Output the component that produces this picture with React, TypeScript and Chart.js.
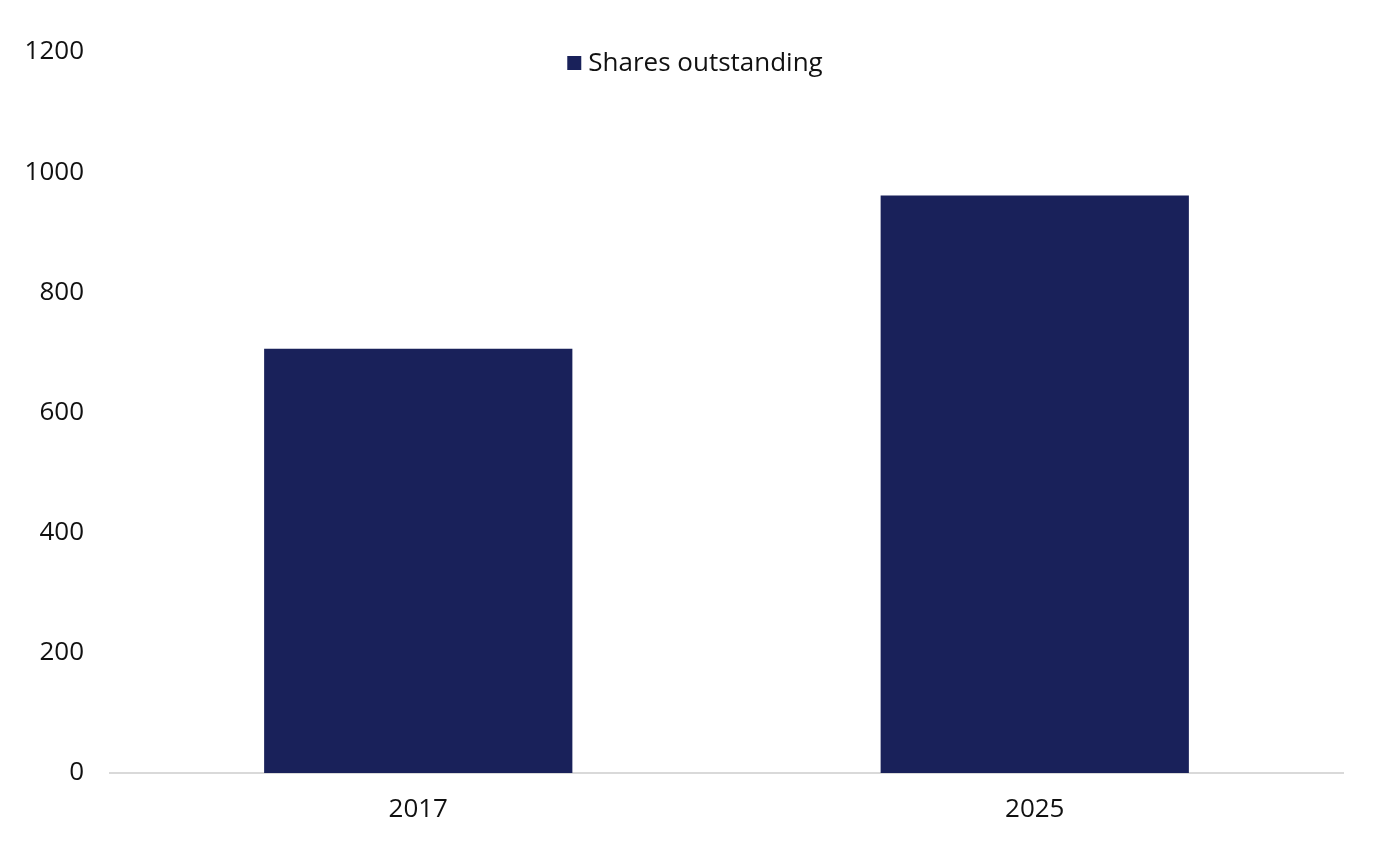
import React, { useRef, useEffect } from 'react';
import { Chart, registerables, Plugin } from 'chart.js';

Chart.register(...registerables);

const years = ['2017', '2025'];
const sharesOutstanding = [706, 961];
const seriesLabel = 'Shares outstanding';
const barColor = '#19215a';
const fontFamily = '"Open Sans", "Noto Sans", sans-serif';

// legend drawn inside the plot area, centred near the top
const topLegend: Plugin<'bar'> = {
    id: 'topLegend',
    afterDraw(chart) {
        const ctx = chart.ctx;
        const ds = chart.data.datasets[0];
        ctx.save();
        ctx.font = `26px ${fontFamily}`;
        const text = String(ds.label);
        const textW = ctx.measureText(text).width;
        const box = 14;
        const gap = 7;
        const total = box + gap + textW;
        const cx = 695;
        const cy = 63;
        const x0 = cx - total / 2;
        ctx.fillStyle = barColor;
        ctx.fillRect(x0, cy - box / 2, box, box);
        ctx.fillStyle = '#111';
        ctx.textBaseline = 'middle';
        ctx.textAlign = 'left';
        ctx.fillText(text, x0 + box + gap, cy + 1);
        ctx.restore();
    }
};

const SharesChart = () => {
    const chartRef = useRef<HTMLCanvasElement>(null);
    const chartInstance = useRef<Chart | null>(null);

    useEffect(() => {
        if (!chartRef.current) return;
        const ctx = chartRef.current.getContext('2d');
        if (!ctx) return;

        if (chartInstance.current) {
            chartInstance.current.destroy();
        }

        chartInstance.current = new Chart(ctx, {
            type: 'bar',
            data: {
                labels: years,
                datasets: [{
                    label: seriesLabel,
                    data: sharesOutstanding,
                    backgroundColor: barColor,
                    borderWidth: 0,
                    barPercentage: 0.5,
                    categoryPercentage: 1
                }]
            },
            options: {
                responsive: true,
                maintainAspectRatio: false,
                animation: false,
                layout: {
                    padding: { top: 52, right: 37, left: 0, bottom: 0 }
                },
                scales: {
                    x: {
                        grid: { display: false, drawTicks: false },
                        border: { color: '#d9d9d9', width: 2 },
                        ticks: {
                            color: '#111',
                            padding: 21,
                            font: { family: fontFamily, size: 26 }
                        },
                        afterFit: (scale) => { scale.height = 90; }
                    },
                    y: {
                        min: 0,
                        max: 1200,
                        grid: { display: false, drawTicks: false },
                        border: { display: false },
                        ticks: {
                            stepSize: 200,
                            color: '#111',
                            padding: 26,
                            font: { family: fontFamily, size: 26 },
                            callback: (value) => String(value)
                        },
                        afterFit: (scale) => { scale.width = 110; }
                    }
                },
                plugins: {
                    legend: { display: false },
                    tooltip: { enabled: false }
                }
            },
            plugins: [topLegend]
        });

        return () => {
            if (chartInstance.current) {
                chartInstance.current.destroy();
                chartInstance.current = null;
            }
        };
    }, []);

    return (
        <div style={{ position: 'absolute', left: 0, top: 0, width: 1380, height: 863, background: '#fff' }}>
            <canvas ref={chartRef}></canvas>
        </div>
    );
};

export default function App() {
    return <SharesChart />;
}
